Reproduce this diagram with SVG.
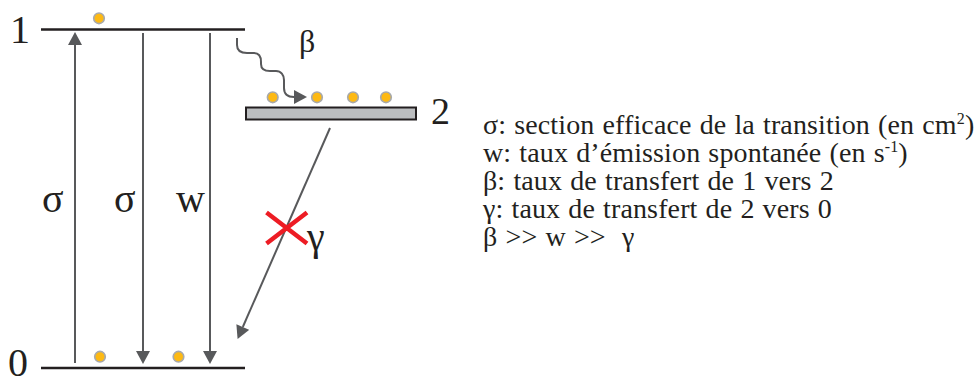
<svg xmlns="http://www.w3.org/2000/svg" width="978" height="381" viewBox="0 0 978 381">
<style>
.lvl{stroke:#231f20;stroke-width:2.5;fill:none}
.arr{stroke:#58595b;stroke-width:2;fill:none}
.dot{fill:#fdb913;stroke:#a7a9ac;stroke-width:1.6}
</style>
<defs>
<marker id="ah" markerUnits="userSpaceOnUse" markerWidth="14" markerHeight="14" refX="0" refY="7" orient="auto" viewBox="0 0 13 14">
<path d="M0,0 L13,7 L0,14 z" fill="#58595b"/>
</marker>
</defs>
<rect width="978" height="381" fill="#fff"/>
<g id="level1" font-family="'Liberation Serif', serif" fill="#231f20">
<line class="lvl" x1="41" y1="29.5" x2="245" y2="29.5"/>
<circle class="dot" cx="99" cy="18.3" r="5.3"/>
<text font-size="40" x="10" y="43">1</text>
</g>
<g id="level0" font-family="'Liberation Serif', serif" fill="#231f20">
<line class="lvl" x1="41" y1="368" x2="245" y2="368"/>
<circle class="dot" cx="100" cy="356.7" r="5.3"/>
<circle class="dot" cx="178.5" cy="356.7" r="5.3"/>
<text font-size="40" x="8" y="376">0</text>
</g>
<g id="level2" font-family="'Liberation Serif', serif" fill="#231f20">
<rect x="246" y="107.5" width="170" height="12" fill="#bcbec0" stroke="#231f20" stroke-width="2"/>
<circle class="dot" cx="272.7" cy="97.3" r="5.3"/>
<circle class="dot" cx="317" cy="97.3" r="5.3"/>
<circle class="dot" cx="353" cy="97.3" r="5.3"/>
<circle class="dot" cx="386" cy="97.3" r="5.3"/>
<text font-size="38" x="431" y="124">2</text>
</g>
<g id="connectors">
<line class="arr" x1="75" y1="363" x2="75" y2="45" marker-end="url(#ah)"/>
<line class="arr" x1="143" y1="33" x2="143" y2="351" marker-end="url(#ah)"/>
<line class="arr" x1="210" y1="33" x2="210" y2="351" marker-end="url(#ah)"/>
<path class="arr" d="M237,38 L237,45 C237,51 241,53 247,53 L254,53 C259,53 261,57 261,62 L261,64 C261,69 264,71 270,71 L276,71 C281,71 284,75 284,80 L284,88 C284,94 288,97 294,97" marker-end="url(#ah)"/>
<line class="arr" x1="330" y1="128" x2="242.8" y2="327" marker-end="url(#ah)"/>
<path d="M266.5,212.5 L307,243.5 M307,212.5 L266.5,243.5" stroke="#ed1c24" stroke-width="4.5" fill="none"/>
</g>
<g id="labels" font-family="'Liberation Serif', serif" fill="#231f20">
<text font-size="40" x="42" y="212">σ</text>
<text font-size="40" x="114" y="212">σ</text>
<text font-size="40" x="176" y="212">w</text>
<text font-size="32" x="299" y="52">β</text>
<text font-size="40" x="307" y="250">γ</text>
</g>
<g id="legend" font-family="'Liberation Serif', serif" font-size="28" letter-spacing="0.12" word-spacing="1" fill="#231f20">
<text x="483" y="134">σ: section efficace de la transition (en cm<tspan font-size="16" dy="-10">2</tspan><tspan dy="10">)</tspan></text>
<text x="483" y="162">w: taux d’émission spontanée (en s<tspan font-size="16" dy="-10">-1</tspan><tspan dy="10">)</tspan></text>
<text x="483" y="190">β: taux de transfert de 1 vers 2</text>
<text x="483" y="218">γ: taux de transfert de 2 vers 0</text>
<text x="483" y="246" xml:space="preserve">β &gt;&gt; w &gt;&gt;  γ</text>
</g>
</svg>
